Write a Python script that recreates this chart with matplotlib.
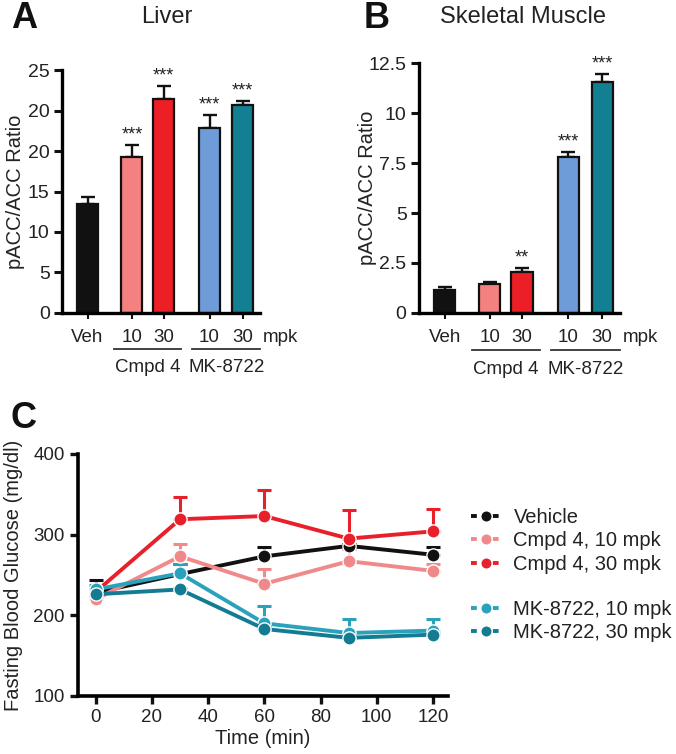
import matplotlib.pyplot as plt
import numpy as np
from matplotlib.lines import Line2D

plt.rcParams['font.family'] = ['Liberation Sans', 'DejaVu Sans']
plt.rcParams['text.color'] = '#222222'
plt.rcParams['axes.labelcolor'] = '#222222'
plt.rcParams['xtick.color'] = '#111111'
plt.rcParams['ytick.color'] = '#111111'
plt.rcParams['xtick.labelcolor'] = '#222222'
plt.rcParams['ytick.labelcolor'] = '#222222'

# ---- bar panels data ----
bar_labels = ['Veh', '10', '30', '10', '30']
bar_colors = ['#111111', '#f3817f', '#ec1f26', '#6d9cd8', '#127f93']
group_names = ['Cmpd 4', 'MK-8722']

liver_vals = [13.5, 19.3, 26.4, 22.9, 25.7]
liver_err = [0.8, 1.4, 1.6, 1.5, 0.5]
liver_stars = ['', '***', '***', '***', '***']
liver_ticks = [0, 5, 10, 15, 20, 25, 30]
liver_ticklabels = ['0', '5', '10', '15', '20', '20', '25']

muscle_vals = [1.17, 1.47, 2.05, 7.8, 11.55]
muscle_err = [0.12, 0.1, 0.22, 0.28, 0.42]
muscle_stars = ['', '', '**', '***', '***']
muscle_ticks = [0, 2.5, 5, 7.5, 10, 12.5]
muscle_ticklabels = ['0', '2.5', '5', '7.5', '10', '12.5']

# ---- glucose time course ----
time_min = [0, 30, 60, 90, 120]
veh_glc = [228, 251, 273, 286, 275]
veh_err = [16, 12, 11, 2, 9]
c10_glc = [220, 273, 239, 267, 255]
c10_err = [4, 15, 18, 15, 9]
c30_glc = [229, 319, 323, 295, 304]
c30_err = [3, 28, 32, 35, 28]
mk10_glc = [232, 252, 190, 178, 181]
mk10_err = [6, 11, 21, 17, 14]
mk30_glc = [226, 232, 183, 172, 176]
mk30_err = [3, 2, 4, 3, 3]

series = [
    ('Vehicle', veh_glc, veh_err, '#111111'),
    ('Cmpd 4, 10 mpk', c10_glc, c10_err, '#f0898a'),
    ('Cmpd 4, 30 mpk', c30_glc, c30_err, '#e8202a'),
    ('MK-8722, 10 mpk', mk10_glc, mk10_err, '#2aa2bb'),
    ('MK-8722, 30 mpk', mk30_glc, mk30_err, '#147c92'),
]

fig = plt.figure(figsize=(6.76, 7.54), dpi=100)

pos = [0, 1.4, 2.4, 3.85, 4.9]


def bar_panel(ax, vals, err, stars, ticks, ticklabels, ylabel, star_pad, label_x):
    ax.bar(pos, vals, width=0.66, color=bar_colors, edgecolor='#111111', linewidth=1.6, zorder=2)
    ax.errorbar(pos, vals, yerr=[np.zeros(len(vals)), err], fmt='none', ecolor='#111111',
                elinewidth=1.7, capsize=5, capthick=1.7, zorder=1)
    for x, v, e, s in zip(pos, vals, err, stars):
        if s:
            ax.text(x, v + e + star_pad, s, ha='center', va='bottom', fontsize=13)
    ax.set_xlim(-0.8, 5.45)
    ax.set_ylim(ticks[0], ticks[-1])
    ax.set_yticks(ticks)
    ax.set_yticklabels(ticklabels, fontsize=14)
    ax.set_xticks(pos)
    ax.set_xticklabels([])
    ax.tick_params(axis='y', length=6, width=2.2, pad=3)
    ax.tick_params(axis='x', length=4, width=1.5)
    for sp in ['top', 'right']:
        ax.spines[sp].set_visible(False)
    for sp in ['left', 'bottom']:
        ax.spines[sp].set_linewidth(2.4)
    ax.set_ylabel(ylabel, fontsize=14.5)
    ax.yaxis.set_label_coords(label_x, 0.5)
    tr = ax.get_xaxis_transform()
    for x, lab in zip(pos, bar_labels):
        ax.text(x, -0.1, lab, transform=tr, ha='center', va='center', fontsize=13.5)
    ax.text(6.1, -0.1, 'mpk', transform=tr, ha='center', va='center', fontsize=13.5)
    for (a, b), name in zip([(pos[1], pos[2]), (pos[3], pos[4])], group_names):
        ax.plot([a - 0.55, b + 0.55], [-0.148, -0.148], transform=tr, color='#333333',
                lw=1.3, clip_on=False)
        ax.text((a + b) / 2, -0.226, name, transform=tr, ha='center', va='center', fontsize=13.5)


axA = fig.add_axes([0.092, 0.585, 0.293, 0.322])
bar_panel(axA, liver_vals, liver_err, liver_stars, liver_ticks, liver_ticklabels,
          'pACC/ACC Ratio', 0.2, -0.187)
axB = fig.add_axes([0.62, 0.585, 0.297, 0.331])
bar_panel(axB, muscle_vals, muscle_err, muscle_stars, muscle_ticks, muscle_ticklabels,
          'pACC/ACC Ratio', 0.08, -0.209)

fig.text(0.016, 0.976, 'A', fontsize=26, fontweight='bold', va='center', color='#111111')
fig.text(0.247, 0.978, 'Liver', fontsize=17, ha='center', va='center')
fig.text(0.538, 0.976, 'B', fontsize=26, fontweight='bold', va='center', color='#111111')
fig.text(0.774, 0.978, 'Skeletal Muscle', fontsize=17, ha='center', va='center')
fig.text(0.016, 0.445, 'C', fontsize=26, fontweight='bold', va='center', color='#111111')

# ---- panel C ----
axC = fig.add_axes([0.115, 0.077, 0.548, 0.321])
for name, y, e, c in series:
    axC.errorbar(time_min, y, yerr=[np.zeros(len(y)), e], fmt='none', ecolor=c,
                 elinewidth=2.2, capsize=5, capthick=2.2, zorder=1)
    axC.plot(time_min, y, color=c, lw=2.8, marker='o', markersize=9.5,
             markeredgecolor='white', markeredgewidth=1, zorder=2)
axC.set_xlim(-6.4, 125.4)
axC.set_ylim(100, 400)
axC.set_xticks([0, 20, 40, 60, 80, 100, 120])
axC.set_yticks([100, 200, 300, 400])
axC.tick_params(labelsize=13.5, length=6, width=2.4)
for sp in ['top', 'right']:
    axC.spines[sp].set_visible(False)
for sp in ['left', 'bottom']:
    axC.spines[sp].set_linewidth(2.6)
axC.set_xlabel('Time (min)', fontsize=14.5, labelpad=2)
axC.set_ylabel('Fasting Blood Glucose (mg/dl)', fontsize=14.5)
axC.yaxis.set_label_coords(-0.149, 0.5)

handles = [Line2D([0], [0], color=c, lw=2.8, linestyle=(0, (1.5, 1.3)), marker='o',
                  markersize=8, markeredgecolor='white', markeredgewidth=0.8)
           for _, _, _, c in series]
names = [s[0] for s in series]
leg1 = fig.legend(handles[:3], names[:3], loc='upper left', bbox_to_anchor=(0.685, 0.337),
                  frameon=False, fontsize=14.5, handlelength=1.5, handletextpad=0.6,
                  labelspacing=0.22, borderaxespad=0)
leg2 = fig.legend(handles[3:], names[3:], loc='upper left', bbox_to_anchor=(0.685, 0.215),
                  frameon=False, fontsize=14.5, handlelength=1.5, handletextpad=0.6,
                  labelspacing=0.22, borderaxespad=0)

fig.savefig('out.png', dpi=100)
